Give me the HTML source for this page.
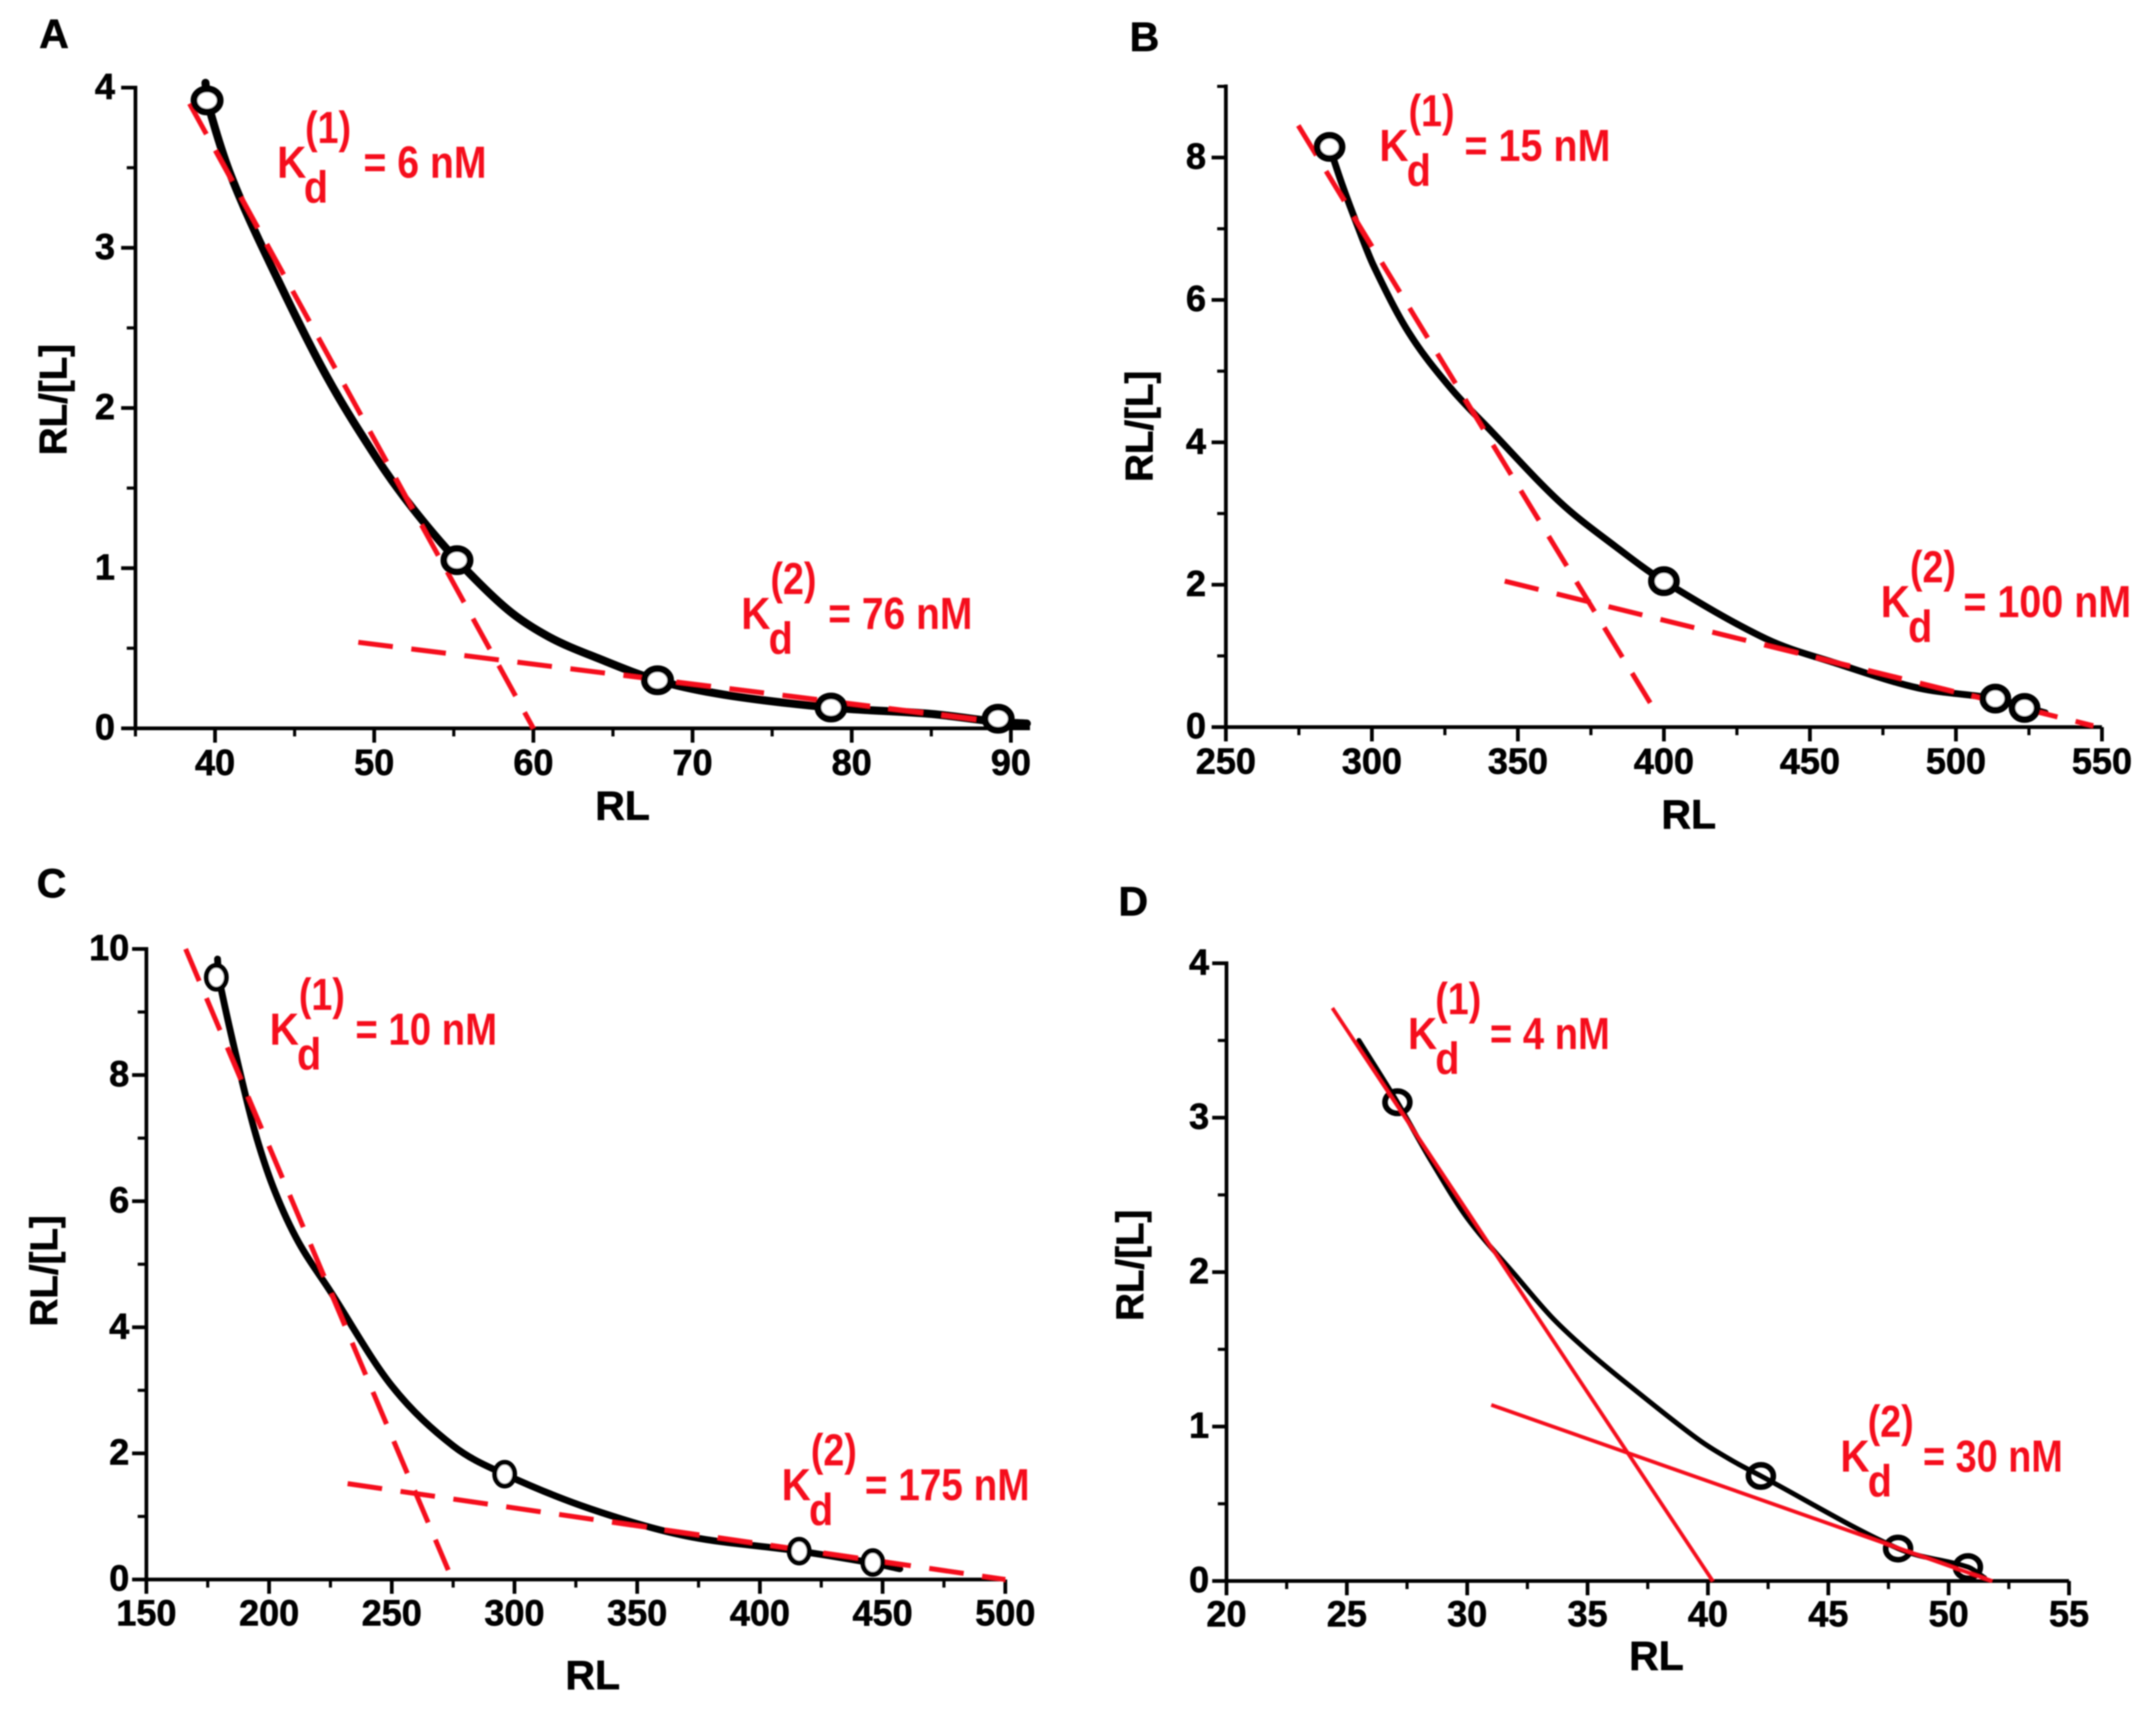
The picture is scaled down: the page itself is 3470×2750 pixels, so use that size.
<!DOCTYPE html>
<html lang="en">
<head>
<meta charset="utf-8">
<title>Scatchard plots</title>
<style>
html,body{margin:0;padding:0;background:#fff;}
svg{display:block;}
text{font-family:"Liberation Sans",sans-serif;font-weight:bold;}
.t{fill:#000;stroke:#000;stroke-width:1;}
.r{fill:#f5101c;}
.kd{font-size:72px;}
.title{font-size:66px;}
.ytitle{font-size:62px;}
.letter{font-size:66px;text-anchor:middle;}
</style>
</head>
<body>
<svg id="chart" xmlns="http://www.w3.org/2000/svg" width="3470" height="2750" viewBox="0 0 3470 2750">
<defs><filter id="soft" x="-2%" y="-2%" width="104%" height="104%"><feGaussianBlur stdDeviation="1.1"/></filter></defs>
<rect width="3470" height="2750" fill="#fff"/>
<g filter="url(#soft)">
  <g id="panel-a">
    <text class="t letter" x="87" y="77">A</text>
    <text class="t title" x="1002" y="1319" text-anchor="middle">RL</text>
    <text class="t ytitle" transform="translate(107,643) rotate(-90)" text-anchor="middle">RL/[L]</text>
  </g>
  <g id="panel-b">
    <text class="t letter" x="1842" y="82">B</text>
    <text class="t title" x="2718" y="1333" text-anchor="middle">RL</text>
    <text class="t ytitle" transform="translate(1855,686) rotate(-90)" text-anchor="middle">RL/[L]</text>
  </g>
  <g id="panel-c">
    <text class="t letter" x="83" y="1444">C</text>
    <text class="t title" x="954" y="2718" text-anchor="middle">RL</text>
    <text class="t ytitle" transform="translate(92,2045) rotate(-90)" text-anchor="middle">RL/[L]</text>
  </g>
  <g id="panel-d">
    <text class="t letter" x="1824" y="1473">D</text>
    <text class="t title" x="2666" y="2687" text-anchor="middle">RL</text>
    <text class="t ytitle" transform="translate(1840,2036) rotate(-90)" text-anchor="middle">RL/[L]</text>
  </g>
  <g id="annotations">
    <g>
      <text class="r kd" x="446" y="286" textLength="47" lengthAdjust="spacingAndGlyphs">K</text><text class="r kd" x="489" y="326" textLength="39" lengthAdjust="spacingAndGlyphs">d</text>
      <text class="r kd" x="491" y="230" textLength="74" lengthAdjust="spacingAndGlyphs">(1)</text>
      <text class="r kd" x="585" y="286" textLength="198" lengthAdjust="spacingAndGlyphs">= 6 nM</text>
    </g>
    <g>
      <text class="r kd" x="1193" y="1012" textLength="47" lengthAdjust="spacingAndGlyphs">K</text><text class="r kd" x="1237" y="1052" textLength="39" lengthAdjust="spacingAndGlyphs">d</text>
      <text class="r kd" x="1240" y="956" textLength="74" lengthAdjust="spacingAndGlyphs">(2)</text>
      <text class="r kd" x="1333" y="1012" textLength="232" lengthAdjust="spacingAndGlyphs">= 76 nM</text>
    </g>
    <g>
      <text class="r kd" x="2220" y="259" textLength="47" lengthAdjust="spacingAndGlyphs">K</text><text class="r kd" x="2264" y="299" textLength="39" lengthAdjust="spacingAndGlyphs">d</text>
      <text class="r kd" x="2267" y="203" textLength="74" lengthAdjust="spacingAndGlyphs">(1)</text>
      <text class="r kd" x="2357" y="259" textLength="235" lengthAdjust="spacingAndGlyphs">= 15 nM</text>
    </g>
    <g>
      <text class="r kd" x="3027" y="993" textLength="47" lengthAdjust="spacingAndGlyphs">K</text><text class="r kd" x="3071" y="1033" textLength="39" lengthAdjust="spacingAndGlyphs">d</text>
      <text class="r kd" x="3074" y="937" textLength="74" lengthAdjust="spacingAndGlyphs">(2)</text>
      <text class="r kd" x="3160" y="993" textLength="270" lengthAdjust="spacingAndGlyphs">= 100 nM</text>
    </g>
    <g>
      <text class="r kd" x="434" y="1681" textLength="47" lengthAdjust="spacingAndGlyphs">K</text><text class="r kd" x="478" y="1721" textLength="39" lengthAdjust="spacingAndGlyphs">d</text>
      <text class="r kd" x="481" y="1625" textLength="74" lengthAdjust="spacingAndGlyphs">(1)</text>
      <text class="r kd" x="572" y="1681" textLength="228" lengthAdjust="spacingAndGlyphs">= 10 nM</text>
    </g>
    <g>
      <text class="r kd" x="1258" y="2414" textLength="47" lengthAdjust="spacingAndGlyphs">K</text><text class="r kd" x="1302" y="2454" textLength="39" lengthAdjust="spacingAndGlyphs">d</text>
      <text class="r kd" x="1305" y="2358" textLength="74" lengthAdjust="spacingAndGlyphs">(2)</text>
      <text class="r kd" x="1392" y="2414" textLength="265" lengthAdjust="spacingAndGlyphs">= 175 nM</text>
    </g>
    <g>
      <text class="r kd" x="2266" y="1688" textLength="47" lengthAdjust="spacingAndGlyphs">K</text><text class="r kd" x="2310" y="1728" textLength="39" lengthAdjust="spacingAndGlyphs">d</text>
      <text class="r kd" x="2310" y="1632" textLength="74" lengthAdjust="spacingAndGlyphs">(1)</text>
      <text class="r kd" x="2398" y="1688" textLength="193" lengthAdjust="spacingAndGlyphs">= 4 nM</text>
    </g>
    <g>
      <text class="r kd" x="2962" y="2368" textLength="47" lengthAdjust="spacingAndGlyphs">K</text><text class="r kd" x="3006" y="2408" textLength="39" lengthAdjust="spacingAndGlyphs">d</text>
      <text class="r kd" x="3006" y="2312" textLength="74" lengthAdjust="spacingAndGlyphs">(2)</text>
      <text class="r kd" x="3095" y="2368" textLength="225" lengthAdjust="spacingAndGlyphs">= 30 nM</text>
    </g>
  </g>
</g>
</svg>
<script>
// ---- Panel A data ----
const aXTicks = [40, 50, 60, 70, 80, 90];
const aYTicks = [0, 1, 2, 3, 4];
const aXMinor = [35, 45, 55, 65, 75, 85];
const aYMinor = [0.5, 1.5, 2.5, 3.5];
const aCurveX = [39.4, 39.5, 41, 43.76, 47, 50.2, 52.4, 55.2, 58.4, 61, 64, 67.8, 72, 78.7, 85, 89.2, 91];
const aCurveY = [4.03, 3.92, 3.45, 2.84, 2.2, 1.68, 1.376, 1.05, 0.74, 0.57, 0.44, 0.3, 0.21, 0.13, 0.09, 0.04, 0.03];
const aPointX = [39.5, 55.2, 67.8, 78.7, 89.2];
const aPointY = [3.92, 1.05, 0.3, 0.13, 0.06];
const aFit1X = [38.4, 60];
const aFit1Y = [3.9, 0];
const aFit2X = [49, 89.6];
const aFit2Y = [0.537, 0.034];

// ---- Panel B data ----
const bXTicks = [250, 300, 350, 400, 450, 500, 550];
const bYTicks = [0, 2, 4, 6, 8];
const bXMinor = [275, 325, 375, 425, 475, 525];
const bYMinor = [1, 3, 5, 7, 9];
const bCurveX = [285.5, 290, 295, 300.7, 312.5, 326.6, 340.8, 364.4, 383.3, 400, 435, 458.7, 487, 513.5, 523.5, 530.6];
const bCurveY = [8.15, 7.6, 7.05, 6.47, 5.55, 4.78, 4.16, 3.16, 2.54, 2.05, 1.24, 0.9, 0.55, 0.4, 0.28, 0.2];
const bPointX = [285.5, 400, 513.5, 523.5];
const bPointY = [8.15, 2.05, 0.4, 0.27];
const bFit1X = [274.8, 397.4];
const bFit1Y = [8.45, 0.2];
const bFit2X = [345.5, 547];
const bFit2Y = [2.05, 0.02];

// ---- Panel C data ----
const cXTicks = [150, 200, 250, 300, 350, 400, 450, 500];
const cYTicks = [0, 2, 4, 6, 8, 10];
const cXMinor = [175, 225, 275, 325, 375, 425, 475];
const cYMinor = [1, 3, 5, 7, 9];
const cCurveX = [179, 179.5, 188.4, 195, 202.4, 212, 224.8, 250, 275, 296, 331, 370, 416, 446, 457];
const cCurveY = [9.84, 9.55, 8, 7, 6.15, 5.35, 4.58, 3.07, 2.12, 1.67, 1.12, 0.69, 0.45, 0.26, 0.17];
const cPointX = [178.5, 296, 416, 446];
const cPointY = [9.55, 1.67, 0.45, 0.27];
const cFit1X = [166, 273];
const cFit1Y = [10, 0.15];
const cFit2X = [232, 500];
const cFit2Y = [1.52, 0];

// ---- Panel D data ----
const dXTicks = [20, 25, 30, 35, 40, 45, 50, 55];
const dYTicks = [0, 1, 2, 3, 4];
const dXMinor = [22.5, 27.5, 32.5, 37.5, 42.5, 47.5, 52.5];
const dYMinor = [0.5, 1.5, 2.5, 3.5];
const dCurveX = [25.5, 27.1, 28.5, 30, 32, 33.5, 35, 36.7, 39.57, 41, 42.2, 47.9, 50.8, 51.5];
const dCurveY = [3.5, 3.1, 2.72, 2.35, 1.98, 1.71, 1.49, 1.27, 0.92, 0.78, 0.68, 0.21, 0.09, 0.02];
const dPointX = [27.1, 42.2, 47.9, 50.8];
const dPointY = [3.1, 0.68, 0.21, 0.09];
const dFit1X = [24.4, 40.2];
const dFit1Y = [3.71, 0];
const dFit2X = [31, 51.8];
const dFit2Y = [1.14, 0];

const NS = 'http://www.w3.org/2000/svg';

function el(tag, attrs, parent) {
  const node = document.createElementNS(NS, tag);
  for (const k in attrs) node.setAttribute(k, attrs[k]);
  parent.appendChild(node);
  return node;
}

function smoothPath(xs, ys) {
  const n = xs.length;
  const m = xs.map((_, i) => {
    const a = Math.max(i - 1, 0), b = Math.min(i + 1, n - 1);
    return (ys[b] - ys[a]) / (xs[b] - xs[a]);
  });
  let d = 'M' + xs[0].toFixed(1) + ' ' + ys[0].toFixed(1);
  for (let i = 0; i < n - 1; i++) {
    const h = (xs[i + 1] - xs[i]) / 3;
    d += 'C' + (xs[i] + h).toFixed(1) + ' ' + (ys[i] + m[i] * h).toFixed(1) + ' ' + (xs[i + 1] - h).toFixed(1) + ' ' + (ys[i + 1] - m[i + 1] * h).toFixed(1) + ' ' + xs[i + 1].toFixed(1) + ' ' + ys[i + 1].toFixed(1);
  }
  return d;
}

function drawPanel(p) {
  const root = document.getElementById('panel-' + p.id);
  const sx = v => p.px0 + (v - p.x0) * (p.px1 - p.px0) / (p.x1 - p.x0);
  const sy = v => p.py0 + (v - p.y0) * (p.py1 - p.py0) / (p.y1 - p.y0);
  const axisX = sx(p.x0), axisY = sy(p.y0);

  const xAxis = el('line', {x1: axisX - 3, x2: sx(p.xEnd), y1: axisY, y2: axisY, stroke: '#000', 'stroke-width': 6}, root);
  
  
  const yAxis = el('line', {x1: axisX, x2: axisX, y1: axisY + 3, y2: sy(p.yEnd) - 3, stroke: '#000', 'stroke-width': 6}, root);
  
  

  p.xTicks.forEach(v => {
    const t = el('line', {x1: sx(v), x2: sx(v), y1: axisY, y2: axisY + 23, stroke: '#000', 'stroke-width': 6}, root);
    
    
    const l = el('text', {x: sx(v), y: axisY + p.xLabelDy, 'text-anchor': 'middle', 'font-size': 58, class: 't'}, root);
    
    
    l.textContent = v;
  });
  p.xMinor.forEach(v => {
    const t = el('line', {x1: sx(v), x2: sx(v), y1: axisY, y2: axisY + 13, stroke: '#000', 'stroke-width': 5}, root);
    
    
  });
  p.yTicks.forEach(v => {
    const t = el('line', {x1: axisX - 23, x2: axisX, y1: sy(v), y2: sy(v), stroke: '#000', 'stroke-width': 6}, root);
    
    
    const l = el('text', {x: p.labelRight, y: sy(v) + 18, 'text-anchor': 'end', 'font-size': 58, class: 't'}, root);
    
    
    l.textContent = v;
  });
  p.yMinor.forEach(v => {
    const t = el('line', {x1: axisX - 14, x2: axisX, y1: sy(v), y2: sy(v), stroke: '#000', 'stroke-width': 5}, root);
    
    
  });

  const curve = el('path', {d: smoothPath(p.curveX.map(sx), p.curveY.map(sy)), fill: 'none', stroke: '#000', 'stroke-width': p.curveWidth, 'stroke-linecap': 'round', 'stroke-linejoin': 'round'}, root);
  
  

  const drawFits = () => {
    const f1 = el('line', {x1: sx(p.fit1X[0]), y1: sy(p.fit1Y[0]), x2: sx(p.fit1X[1]), y2: sy(p.fit1Y[1]), stroke: '#f5101c', 'stroke-width': p.fitWidth, 'stroke-dasharray': p.dash}, root);
    
    
    const f2 = el('line', {x1: sx(p.fit2X[0]), y1: sy(p.fit2Y[0]), x2: sx(p.fit2X[1]), y2: sy(p.fit2Y[1]), stroke: '#f5101c', 'stroke-width': p.fitWidth, 'stroke-dasharray': p.dash}, root);
    
    
  };
  const drawPoints = () => {
    p.pointX.forEach((v, i) => {
      const m = el('ellipse', {cx: sx(v), cy: sy(p.pointY[i]), rx: p.rx, ry: p.ry, fill: p.fitsOnTop ? 'none' : '#fff', stroke: '#000', 'stroke-width': p.ringWidth}, root);
      
      
    });
  };
  if (p.fitsOnTop) { drawPoints(); drawFits(); } else { drawFits(); drawPoints(); }
}

drawPanel({id: 'a', x0: 35, x1: 90, px0: 218, px1: 1627, xEnd: 91.2, y0: 0, y1: 4, py0: 1172, py1: 141, yEnd: 4, labelRight: 185, xLabelDy: 75,
  xTicks: aXTicks, yTicks: aYTicks, xMinor: aXMinor, yMinor: aYMinor, curveX: aCurveX, curveY: aCurveY, pointX: aPointX, pointY: aPointY,
  fit1X: aFit1X, fit1Y: aFit1Y, fit2X: aFit2X, fit2Y: aFit2Y, curveWidth: 13, fitWidth: 8, dash: '56 30', rx: 21, ry: 18.5, ringWidth: 11, fitsOnTop: false});

drawPanel({id: 'b', x0: 250, x1: 550, px0: 1973, px1: 3383, xEnd: 550, y0: 0, y1: 9, py0: 1170, py1: 139, yEnd: 9, labelRight: 1941, xLabelDy: 75,
  xTicks: bXTicks, yTicks: bYTicks, xMinor: bXMinor, yMinor: bYMinor, curveX: bCurveX, curveY: bCurveY, pointX: bPointX, pointY: bPointY,
  fit1X: bFit1X, fit1Y: bFit1Y, fit2X: bFit2X, fit2Y: bFit2Y, curveWidth: 11, fitWidth: 8, dash: '56 30', rx: 20, ry: 18.5, ringWidth: 11, fitsOnTop: false});

drawPanel({id: 'c', x0: 150, x1: 500, px0: 235.6, px1: 1618, xEnd: 500, y0: 0, y1: 10, py0: 2541.6, py1: 1527, yEnd: 10, labelRight: 208, xLabelDy: 74,
  xTicks: cXTicks, yTicks: cYTicks, xMinor: cXMinor, yMinor: cYMinor, curveX: cCurveX, curveY: cCurveY, pointX: cPointX, pointY: cPointY,
  fit1X: cFit1X, fit1Y: cFit1Y, fit2X: cFit2X, fit2Y: cFit2Y, curveWidth: 11, fitWidth: 8, dash: '56 30', rx: 16, ry: 19, ringWidth: 8, fitsOnTop: false});

drawPanel({id: 'd', x0: 20, x1: 55, px0: 1974, px1: 3330, xEnd: 55, y0: 0, y1: 4, py0: 2544, py1: 1550, yEnd: 4, labelRight: 1946, xLabelDy: 73,
  xTicks: dXTicks, yTicks: dYTicks, xMinor: dXMinor, yMinor: dYMinor, curveX: dCurveX, curveY: dCurveY, pointX: dPointX, pointY: dPointY,
  fit1X: dFit1X, fit1Y: dFit1Y, fit2X: dFit2X, fit2Y: dFit2Y, curveWidth: 8, fitWidth: 6, dash: 'none', rx: 20, ry: 18, ringWidth: 9, fitsOnTop: true});
</script>
</body>
</html>
